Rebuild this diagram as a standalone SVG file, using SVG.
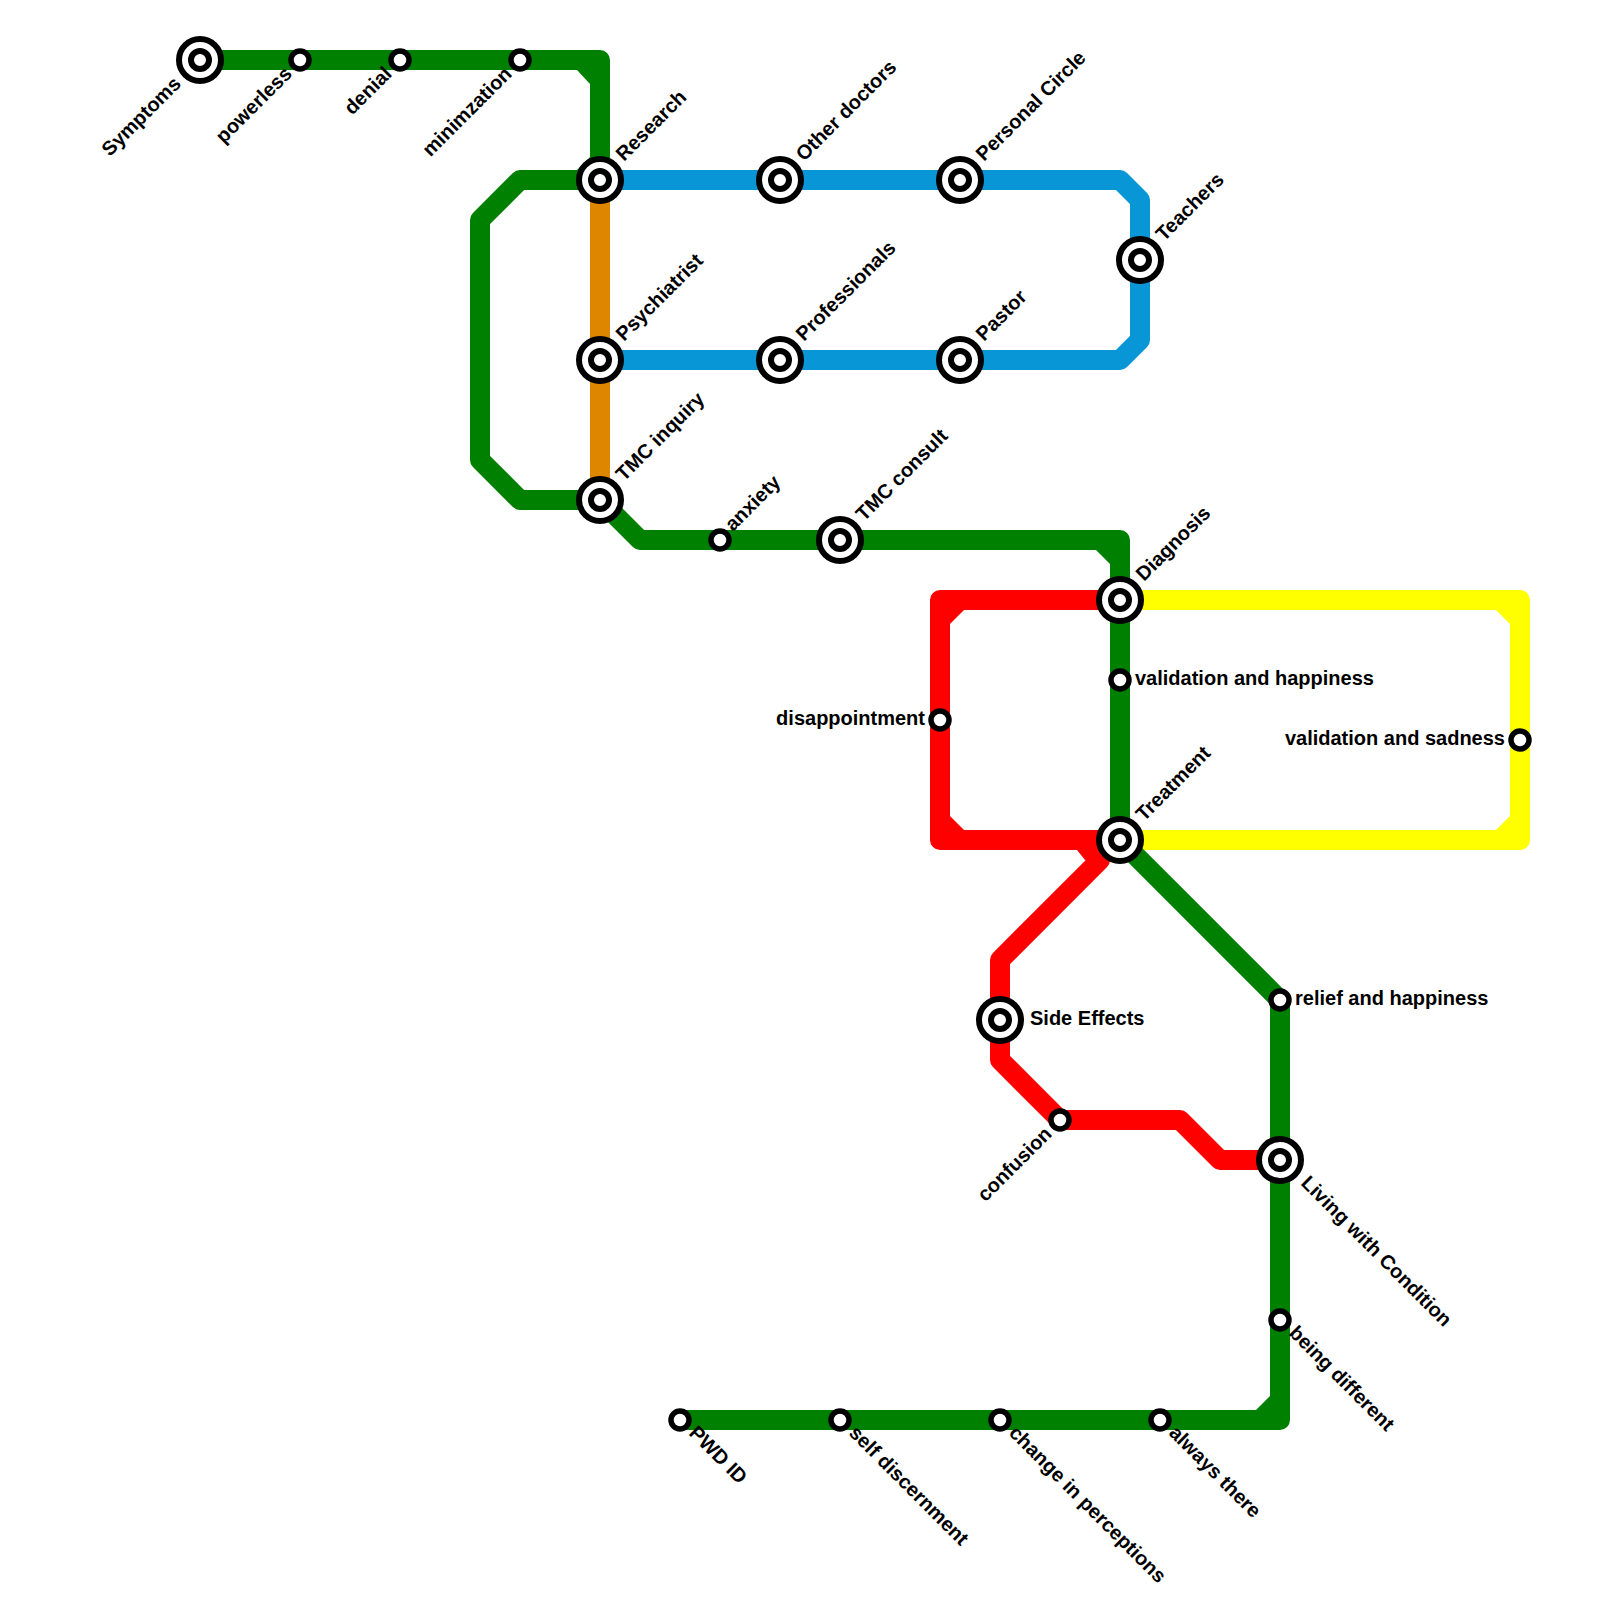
<svg xmlns="http://www.w3.org/2000/svg" width="1600" height="1600" viewBox="0 0 1600 1600">
<style>
.l{fill:none;stroke-width:20;stroke-linejoin:round;stroke-linecap:round}
.g{stroke:#008000}.r{stroke:#ff0000}.b{stroke:#0896d7}.o{stroke:#df8600}.y{stroke:#ffff00}
.cg{fill:#008000}.cr{fill:#ff0000}.cy{fill:#ffff00}
.ring{fill:#fff;stroke:#000;stroke-width:5.5}
.big{fill:#fff;stroke:#000;stroke-width:6}
text{font-family:"Liberation Sans",Arial,sans-serif;font-size:20px;font-weight:bold;fill:#000}
.e{text-anchor:end}
</style>
<defs>
<g id="st"><circle class="ring" r="9"/></g>
<g id="ic"><circle class="big" r="21"/><circle class="big" r="9"/></g>
</defs>
<rect width="1600" height="1600" fill="#fff"/>
<g id="connectors">
<path class="l o" d="M600 180V500"/>
<path class="l b" d="M600 180H1120L1140 200V340L1120 360H600"/>
<path class="l y" d="M1120 600H1520V840H1120"/>
<path class="l r" d="M1120 600H940V840H1120"/>
<path class="l r" d="M1100 840V860L1000 960V1060L1060 1120H1180L1220 1160H1280"/>
<path class="l g" d="M200 60H600V180"/>
<path class="l g" d="M600 180H520L480 220V460L520 500H600L640 540H1120V840L1280 1000V1420H680"/>
<polygon class="cg" points="577,70 590,70 590,84"/>
<polygon class="cg" points="577,170 590,157 590,170"/>
<polygon class="cg" points="1096,550 1110,550 1110,564"/>
<polygon class="cg" points="1256,1410 1270,1396 1270,1410"/>
<polygon class="cr" points="950,610 964,610 950,624"/>
<polygon class="cr" points="950,830 964,830 950,816"/>
<polygon class="cr" points="1077,850 1100,850 1100,870 1085,860"/>
<polygon class="cy" points="1510,610 1496,610 1510,624"/>
<polygon class="cy" points="1510,830 1496,830 1510,816"/>
</g>
<g id="n1"><use href="#ic" x="200" y="60"/><text class="e" x="182" y="85" transform="rotate(-45 182 85)">Symptoms</text></g>
<g id="n2"><use href="#st" x="300" y="60"/><text class="e" x="293" y="75" transform="rotate(-45 293 75)">powerless</text></g>
<g id="n3"><use href="#st" x="400" y="60"/><text class="e" x="393" y="75" transform="rotate(-45 393 75)">denial</text></g>
<g id="n4"><use href="#st" x="520" y="60"/><text class="e" x="513" y="75" transform="rotate(-45 513 75)">minimzation</text></g>
<g id="n5"><use href="#ic" x="600" y="180"/><text x="624" y="162" transform="rotate(-45 624 162)">Research</text></g>
<g id="n6"><use href="#ic" x="600" y="360"/><text x="624" y="342" transform="rotate(-45 624 342)">Psychiatrist</text></g>
<g id="n7"><use href="#ic" x="600" y="500"/><text x="624" y="482" transform="rotate(-45 624 482)">TMC inquiry</text></g>
<g id="n8"><use href="#st" x="720" y="540"/><text x="733" y="532" transform="rotate(-45 733 532)">anxiety</text></g>
<g id="n9"><use href="#ic" x="840" y="540"/><text x="864" y="522" transform="rotate(-45 864 522)">TMC consult</text></g>
<g id="n10"><use href="#ic" x="780" y="180"/><text x="804" y="162" transform="rotate(-45 804 162)">Other doctors</text></g>
<g id="n11"><use href="#ic" x="780" y="360"/><text x="804" y="342" transform="rotate(-45 804 342)">Professionals</text></g>
<g id="n12"><use href="#ic" x="960" y="180"/><text x="984" y="162" transform="rotate(-45 984 162)">Personal Circle</text></g>
<g id="n13"><use href="#ic" x="960" y="360"/><text x="984" y="342" transform="rotate(-45 984 342)">Pastor</text></g>
<g id="n14"><use href="#ic" x="1140" y="260"/><text x="1164" y="242" transform="rotate(-45 1164 242)">Teachers</text></g>
<g id="n15"><use href="#ic" x="1120" y="600"/><text x="1144" y="582" transform="rotate(-45 1144 582)">Diagnosis</text></g>
<g id="n16"><use href="#st" x="1120" y="680"/><text x="1135" y="685">validation and happiness</text></g>
<g id="n17"><use href="#ic" x="1120" y="840"/><text x="1144" y="822" transform="rotate(-45 1144 822)">Treatment</text></g>
<g id="n18"><use href="#st" x="940" y="720"/><text class="e" x="925" y="725">disappointment</text></g>
<g id="n19"><use href="#st" x="1520" y="740"/><text class="e" x="1505" y="745">validation and sadness</text></g>
<g id="n20"><use href="#ic" x="1000" y="1020"/><text x="1030" y="1025">Side Effects</text></g>
<g id="n21"><use href="#st" x="1060" y="1120"/><text class="e" x="1053" y="1135" transform="rotate(-45 1053 1135)">confusion</text></g>
<g id="n22"><use href="#st" x="1280" y="1000"/><text x="1295" y="1005">relief and happiness</text></g>
<g id="n23"><use href="#ic" x="1280" y="1160"/><text x="1300" y="1184" transform="rotate(45 1300 1184)">Living with Condition</text></g>
<g id="n24"><use href="#st" x="1280" y="1320"/><text x="1288" y="1334" transform="rotate(45 1288 1334)">being different</text></g>
<g id="n25"><use href="#st" x="680" y="1420"/><text x="688" y="1434" transform="rotate(45 688 1434)">PWD ID</text></g>
<g id="n26"><use href="#st" x="840" y="1420"/><text x="848" y="1434" transform="rotate(45 848 1434)">self discernment</text></g>
<g id="n27"><use href="#st" x="1000" y="1420"/><text x="1008" y="1434" transform="rotate(45 1008 1434)">change in perceptions</text></g>
<g id="n28"><use href="#st" x="1160" y="1420"/><text x="1168" y="1434" transform="rotate(45 1168 1434)">always there</text></g>
</svg>
